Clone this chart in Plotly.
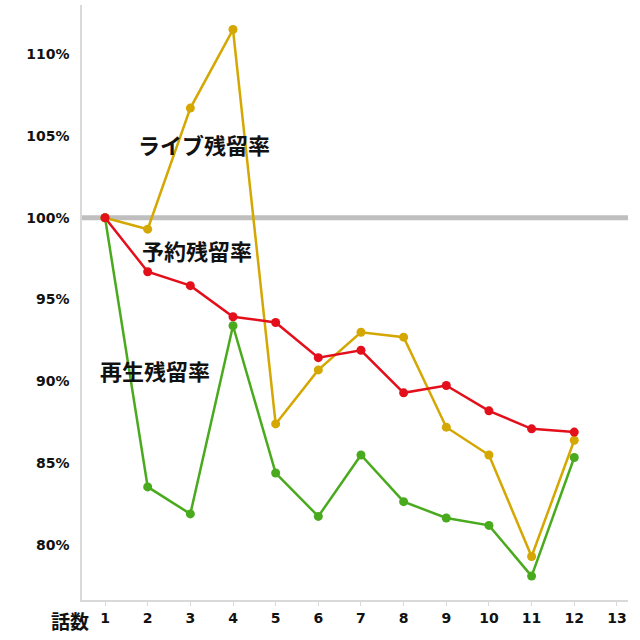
import plotly.graph_objects as go

episodes = list(range(1, 13))
live_retention = [100, 99.3, 106.7, 111.5, 87.4, 90.7, 93.0, 92.7, 87.2, 85.5, 79.3, 86.4]
reserve_retention = [100, 96.7, 95.85, 93.95, 93.6, 91.45, 91.9, 89.3, 89.75, 88.2, 87.1, 86.9]
play_retention = [100, 83.55, 81.9, 93.4, 84.4, 81.75, 85.5, 82.65, 81.65, 81.2, 78.1, 85.35]
y_ticks = [80, 85, 90, 95, 100, 105, 110]
y_tick_labels = ["80%", "85%", "90%", "95%", "100%", "105%", "110%"]
x_ticks = list(range(1, 14))

series = [
    ("再生残留率", play_retention, "#4AAA1E"),
    ("ライブ残留率", live_retention, "#D4A702"),
    ("予約残留率", reserve_retention, "#E3101C"),
]

fig = go.Figure()
for name, vals, col in series:
    fig.add_trace(go.Scatter(
        x=episodes, y=vals, mode="lines+markers", name=name,
        line=dict(color=col, width=2.5),
        marker=dict(color=col, size=9),
    ))

fig.add_shape(type="line", xref="paper", x0=0, x1=1, yref="y", y0=100, y1=100,
              line=dict(color="#BFBFBF", width=5), layer="below")

font_family = "DejaVu Sans, Verdana, sans-serif"
label_font = dict(family="Noto Sans CJK JP", size=22, color="#111111", weight="bold")
annos = [
    ("ライブ残留率", 3.31, 104.5),
    ("予約残留率", 3.16, 98.0),
    ("再生残留率", 2.17, 90.7),
]
for text, x, y in annos:
    fig.add_annotation(x=x, y=y, text=text, showarrow=False, font=label_font,
                       xanchor="center", yanchor="middle")

fig.add_annotation(xref="paper", yref="paper", x=-0.022, y=-0.034, text="話数",
                   showarrow=False, xanchor="center", yanchor="middle",
                   font=dict(family="Noto Sans CJK JP", size=19, color="#111111", weight="bold"))

fig.update_layout(
    width=640, height=640,
    margin=dict(l=82, r=12, t=5, b=40),
    paper_bgcolor="white", plot_bgcolor="white",
    showlegend=False,
    font=dict(family=font_family, size=14, color="#111111"),
)
fig.update_xaxes(
    range=[0.46, 13.26], tickmode="array", tickvals=x_ticks,
    showgrid=False, zeroline=False, showline=True, linecolor="#D9D9D9", linewidth=1.5,
    ticks="outside", ticklen=4, tickcolor="#D9D9D9",
    tickfont=dict(family=font_family, size=14, color="#111111", weight="bold"),
)
fig.update_yaxes(
    range=[76.64, 113.0], tickmode="array", tickvals=y_ticks, ticktext=y_tick_labels,
    showgrid=False, zeroline=False, showline=True, linecolor="#D9D9D9", linewidth=1.5,
    ticks="", ticklabelstandoff=8,
    tickfont=dict(family=font_family, size=14, color="#111111", weight="bold"),
)

fig.write_html("out.html")
